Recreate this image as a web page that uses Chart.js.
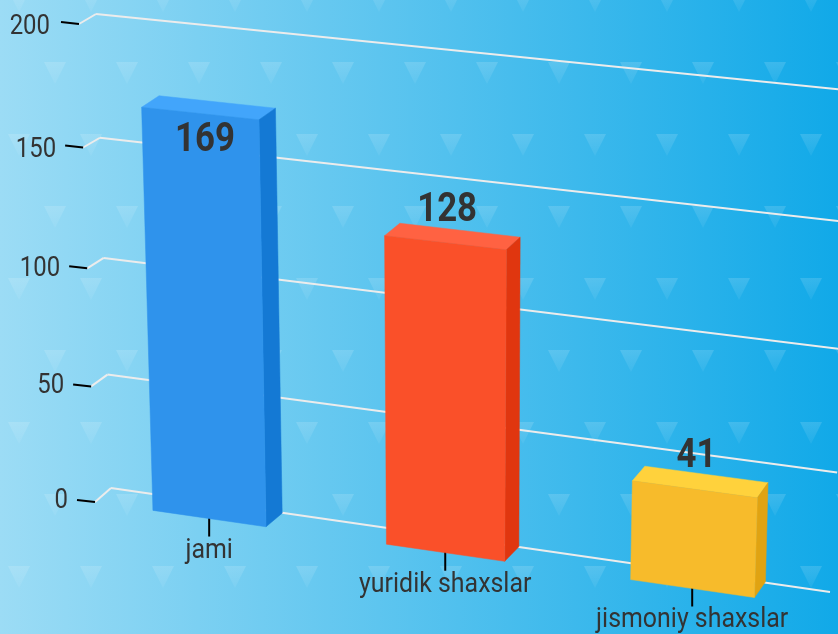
<!DOCTYPE html>
<html><head><meta charset="utf-8">
<style>html,body{margin:0;padding:0;background:#56c2ee}canvas{display:block}</style>
<script src="https://cdn.jsdelivr.net/npm/chart.js@4"></script>
</head><body><canvas id="c" width="838" height="634"></canvas>
<script>
const categories = ["jami", "yuridik shaxslar", "jismoniy shaxslar"];
const values = [169, 128, 41];
const frontColors = ["#2f93ec", "#fa5029", "#f7bb2b"];
const sideColors = ["#1479d4", "#e0360f", "#e0a312"];
const topColors = ["#42a5fb", "#ff6242", "#ffd23c"];
const axisMax = 200, axisStep = 50;

function quad(p0,p1,p2,p3){
  const dx1=p1[0]-p2[0],dx2=p3[0]-p2[0],dx3=p0[0]-p1[0]+p2[0]-p3[0];
  const dy1=p1[1]-p2[1],dy2=p3[1]-p2[1],dy3=p0[1]-p1[1]+p2[1]-p3[1];
  const det=dx1*dy2-dx2*dy1;
  const g=(dx3*dy2-dx2*dy3)/det,h=(dx1*dy3-dx3*dy1)/det;
  const a=p1[0]-p0[0]+g*p1[0],b=p3[0]-p0[0]+h*p3[0],c=p0[0];
  const d=p1[1]-p0[1]+g*p1[1],e=p3[1]-p0[1]+h*p3[1],f=p0[1];
  return (s,t)=>{const w=g*s+h*t+1;return [(a*s+b*t+c)/w,(d*s+e*t+f)/w];};
}
// perspective planes: corners for plot-area (left,top) (right,top) (right,bottom) (left,bottom)
const front = quad([79,24],[838,99],[820,607],[95,502]);
const back  = quad([97,13],[846,88],[830,591],[112,489]);
const wall  = quad([96,14],[860,91.5],[830,592],[111,488]);

function poly(ctx,pts,color){
  ctx.beginPath();pts.forEach((p,i)=>i?ctx.lineTo(p[0],p[1]):ctx.moveTo(p[0],p[1]));ctx.closePath();
  ctx.fillStyle=color;ctx.fill();ctx.strokeStyle=color;ctx.lineWidth=0.5;ctx.stroke();
}
function seg(ctx,a,b,color,w){
  ctx.beginPath();ctx.moveTo(a[0],a[1]);ctx.lineTo(b[0],b[1]);ctx.strokeStyle=color;ctx.lineWidth=w;ctx.stroke();
}
function text(ctx,str,x,y,font,align,color,sx){
  ctx.save();ctx.translate(x,y);ctx.scale(sx||0.87,1);ctx.font=font;ctx.textAlign=align;
  ctx.textBaseline="alphabetic";ctx.fillStyle=color;ctx.fillText(str,0,0);ctx.restore();
}

const perspective3D = {
  id:"perspective3D",
  beforeDraw(chart){
    const {ctx,width,height}=chart;
    const g=ctx.createLinearGradient(0,0,width,0);
    g.addColorStop(0,"#9cdcf5");g.addColorStop(1,"#11a9e8");
    ctx.fillStyle=g;ctx.fillRect(0,0,width,height);
    let row=0;
    for(let y=-10;y<height;y+=72,row++){
      const tri=ctx.createLinearGradient(0,y,0,y+22);
      tri.addColorStop(0,"rgba(255,255,255,0.14)");tri.addColorStop(1,"rgba(255,255,255,0.05)");
      for(let x=(row%2?55:19)-72;x<width+30;x+=72){
        ctx.beginPath();ctx.moveTo(x-11,y);ctx.lineTo(x+11,y);ctx.lineTo(x,y+22);ctx.closePath();
        ctx.fillStyle=tri;ctx.fill();
      }
    }
  },
  beforeDatasetDraw(chart){
    const ctx=chart.ctx,xs=chart.scales.x,ys=chart.scales.y,meta=chart.getDatasetMeta(0);
    const S=p=>p/chart.width,T=p=>p/chart.height;
    ctx.save();ctx.lineCap="butt";
    ys.ticks.forEach(tk=>{
      const t=T(ys.getPixelForValue(tk.value));
      const a=wall(0,t),b=wall(1,t),f=front(0,t);
      seg(ctx,f,a,"#ececec",2);
      seg(ctx,a,b,"#ececec",2);
      const l=[f[0]-18,f[1]-2];
      seg(ctx,l,f,"#000",2);
      text(ctx,tk.label,l[0]-11+2*Math.min(1,t*4),l[1]+8+4*(1-t),"27.5px Roboto","right","#333");
    });
    const t0=T(ys.getPixelForValue(0));
    meta.data.forEach((el,i)=>{
      const c=front(S(xs.getPixelForValue(i)),t0);
      seg(ctx,[c[0],c[1]-8],[c[0],c[1]+18],"#000",2);
      text(ctx,categories[i],c[0],c[1]+39,"28px Roboto","center","#333",0.89);
    });
    meta.data.forEach((el,i)=>{
      const l=S(el.x-el.width/2),r=S(el.x+el.width/2),tp=T(el.y),bt=T(el.base);
      poly(ctx,[back(l,tp),back(r,tp),front(r,tp),front(l,tp)],topColors[i]);
      poly(ctx,[front(r,tp),back(r,tp),back(r,bt),front(r,bt)],sideColors[i]);
      poly(ctx,[front(l,tp),front(r,tp),front(r,bt),front(l,bt)],frontColors[i]);
    });
    meta.data.forEach((el,i)=>{
      const c=front(S(el.x),T(el.y));
      const y=values[i]>150?c[1]+38:c[1]-22;
      text(ctx,String(values[i]),c[0]+(values[i]>150?5:2),y,"bold 40px Roboto","center","#333");
    });
    ctx.restore();
    return false;
  }
};

new Chart(document.getElementById("c"),{
  type:"bar",
  data:{labels:categories,datasets:[{data:values,backgroundColor:frontColors,categoryPercentage:1,barPercentage:0.49}]},
  options:{
    responsive:false,animation:false,
    layout:{padding:0},
    plugins:{legend:{display:false},tooltip:{enabled:false},title:{display:false}},
    scales:{
      x:{display:false},
      y:{display:false,min:0,max:axisMax,ticks:{stepSize:axisStep}}
    }
  },
  plugins:[perspective3D]
});
</script></body></html>
